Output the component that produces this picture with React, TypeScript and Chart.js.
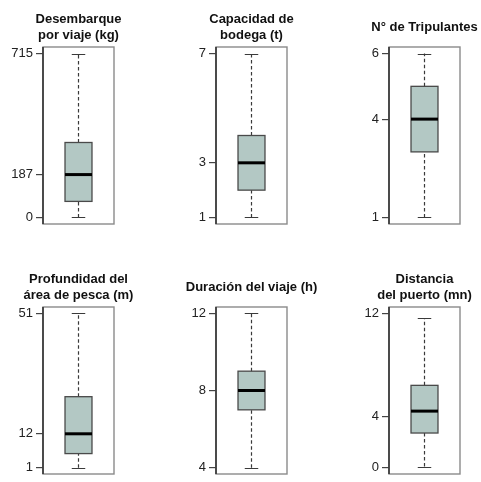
import React, { useEffect, useRef } from "react";
import { Chart, registerables } from "chart.js";

Chart.register(...registerables);

// Panel titles
const titles: string[][] = [
  ["Desembarque", "por viaje (kg)"],
  ["Capacidad de", "bodega (t)"],
  ["N° de Tripulantes"],
  ["Profundidad del", "área de pesca (m)"],
  ["Duración del viaje (h)"],
  ["Distancia", "del puerto (mn)"],
];

// Box statistics: [min, q1, median, q3, max]
const mins = [0, 1, 1, 1, 4, 0.1];
const q1s = [70, 2, 3, 5.6, 7, 2.7];
const medians = [187, 3, 4, 12, 8, 4.4];
const q3s = [327, 4, 5, 24, 9, 6.4];
const maxs = [715, 7, 6, 51, 12, 11.6];

// Tick labels shown on each y axis
const tickValues: number[][] = [
  [0, 187, 715],
  [1, 3, 7],
  [1, 4, 6],
  [1, 12, 51],
  [4, 8, 12],
  [0, 4, 12],
];

// Panel frame positions (layout only)
const frameLefts = [43, 216, 389, 43, 216, 389];
const rowTops = [0, 0, 0, 250, 250, 250];
const AXIS_W = 43;
const FRAME_W = 71;
const CANVAS_H = 240;
const AREA_TOP = [47, 47, 47, 57, 57, 57];
const AREA_BOTTOM_PAD = 16;

const boxPlugin = {
  id: "boxExtras",
  afterDatasetsDraw(chart: any, _args: any, opts: any) {
    const { ctx, chartArea } = chart;
    const y = chart.scales.y;
    const x = chart.scales.x;
    const cx = x.getPixelForValue(0);
    const meta = chart.getDatasetMeta(0);
    const bar = meta.data[0];
    const bw = bar.width;
    const s = opts.stats;
    ctx.save();
    // whiskers
    ctx.strokeStyle = "#3a3a3a";
    ctx.lineWidth = 1.2;
    ctx.setLineDash([3.5, 2.5]);
    ctx.beginPath();
    ctx.moveTo(cx, y.getPixelForValue(s.min));
    ctx.lineTo(cx, y.getPixelForValue(s.q1));
    ctx.moveTo(cx, y.getPixelForValue(s.q3));
    ctx.lineTo(cx, y.getPixelForValue(s.max));
    ctx.stroke();
    ctx.setLineDash([]);
    // caps
    ctx.beginPath();
    const cw = bw / 4;
    [s.min, s.max].forEach((v: number) => {
      const py = Math.round(y.getPixelForValue(v)) + 0.5;
      ctx.moveTo(cx - cw, py);
      ctx.lineTo(cx + cw, py);
    });
    ctx.stroke();
    // box border
    const top = y.getPixelForValue(s.q3);
    const bot = y.getPixelForValue(s.q1);
    ctx.strokeStyle = "#4a4a4a";
    ctx.lineWidth = 1.3;
    ctx.strokeRect(cx - bw / 2, top, bw, bot - top);
    // median
    ctx.strokeStyle = "#000";
    ctx.lineWidth = 3;
    ctx.beginPath();
    const my = y.getPixelForValue(s.median);
    ctx.moveTo(cx - bw / 2, my);
    ctx.lineTo(cx + bw / 2, my);
    ctx.stroke();
    // frame
    ctx.strokeStyle = "#8a8a8a";
    ctx.lineWidth = 1.4;
    ctx.strokeRect(chartArea.left, chartArea.top, chartArea.right - chartArea.left, chartArea.bottom - chartArea.top);
    ctx.strokeStyle = "#333";
    ctx.lineWidth = 1.6;
    ctx.beginPath();
    ctx.moveTo(chartArea.left, chartArea.top);
    ctx.lineTo(chartArea.left, chartArea.bottom);
    ctx.stroke();
    ctx.restore();
  },
};

function Panel({ i }: { i: number }) {
  const ref = useRef<HTMLCanvasElement>(null);
  useEffect(() => {
    const lo = tickValues[i][0];
    const hi = tickValues[i][tickValues[i].length - 1];
    const span = hi - lo;
    const nLines = titles[i].length;
    const lineH = 16.25;
    const padBottom = nLines === 2 ? 3 : 11;
    const padTop = AREA_TOP[i] - nLines * lineH - padBottom;
    const chart = new Chart(ref.current!, {
      type: "bar",
      data: {
        labels: [""],
        datasets: [
          {
            data: [[q1s[i], q3s[i]]] as any,
            backgroundColor: "#b3c8c4",
            borderWidth: 0,
            barPercentage: 0.38,
            categoryPercentage: 1,
          },
        ],
      },
      options: {
        animation: false,
        responsive: false,
        maintainAspectRatio: false,
        layout: { padding: { top: 0, right: 0, bottom: AREA_BOTTOM_PAD, left: 0 } },
        plugins: {
          legend: { display: false },
          tooltip: { enabled: false },
          title: {
            display: true,
            text: titles[i],
            color: "#111",
            font: { family: "Liberation Sans, Arial, sans-serif", size: 13, weight: "bold", lineHeight: 1.25 },
            padding: { top: padTop, bottom: padBottom },
          },
          boxExtras: {
            stats: { min: mins[i], q1: q1s[i], median: medians[i], q3: q3s[i], max: maxs[i] },
          },
        } as any,
        scales: {
          x: { display: false },
          y: {
            min: lo - 0.04 * span,
            max: hi + 0.04 * span,
            afterBuildTicks: (scale: any) => {
              scale.ticks = tickValues[i].map((v) => ({ value: v }));
            },
            afterFit: (scale: any) => {
              scale.width = AXIS_W;
            },
            ticks: {
              color: "#222",
              padding: 3,
              font: { family: "Liberation Sans, Arial, sans-serif", size: 13 },
              callback: (v: any) => String(v),
            },
            grid: {
              drawOnChartArea: false,
              drawTicks: true,
              tickLength: 7,
              color: "#444",
              lineWidth: 1.2,
            },
            border: { display: false },
          },
          yRight: {
            position: "right",
            display: true,
            min: lo - 0.04 * span,
            max: hi + 0.04 * span,
            ticks: { display: false },
            grid: { display: false },
            border: { display: false },
            afterFit: (scale: any) => {
              scale.width = AXIS_W;
            },
          },
        } as any,
      },
      plugins: [boxPlugin],
    });
    return () => chart.destroy();
  }, [i]);
  return (
    <canvas
      ref={ref}
      width={AXIS_W * 2 + FRAME_W}
      height={CANVAS_H}
      style={{
        position: "absolute",
        left: frameLefts[i] - AXIS_W,
        top: rowTops[i],
        width: AXIS_W * 2 + FRAME_W,
        height: CANVAS_H,
      }}
    />
  );
}

export default function App() {
  return (
    <div
      style={{
        position: "fixed",
        left: 0,
        top: 0,
        width: 481,
        height: 482,
        overflow: "hidden",
        background: "#fff",
      }}
    >
      {titles.map((_, i) => (
        <Panel key={i} i={i} />
      ))}
    </div>
  );
}
